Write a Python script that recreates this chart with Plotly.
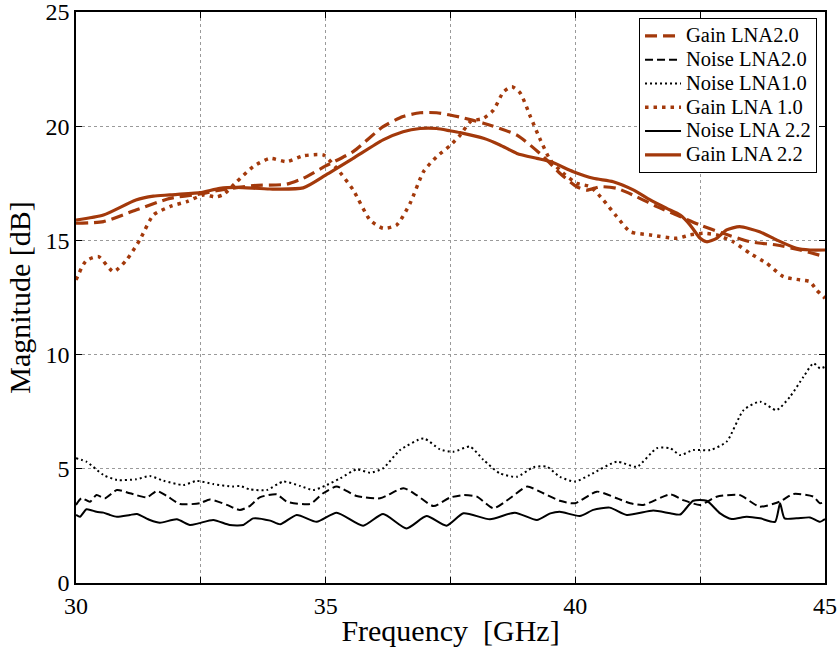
import plotly.graph_objects as go

# ---------------- data ----------------
f_gain22 = [30.0, 30.55, 31.2, 31.55, 31.88, 32.48, 32.88, 33.22, 33.88, 34.55, 35.0, 35.55, 36.15, 36.55,
            36.89, 37.22, 37.49, 37.69, 38.16, 38.49, 38.83, 39.23, 39.5, 39.96, 40.36, 40.76, 41.16, 41.5,
            41.83, 42.1, 42.3, 42.5, 42.63, 42.83, 43.03, 43.29, 43.69, 44.03, 44.43, 44.7, 45.0]
v_gain22 = [15.89, 16.11, 16.77, 16.94, 16.99, 17.09, 17.28, 17.32, 17.25, 17.3, 17.86, 18.59, 19.4, 19.76,
            19.9, 19.9, 19.8, 19.72, 19.47, 19.18, 18.81, 18.59, 18.45, 18.01, 17.72, 17.57, 17.21, 16.77,
            16.4, 16.11, 15.67, 15.09, 14.94, 15.09, 15.46, 15.6, 15.38, 15.02, 14.65, 14.58, 14.58]

f_gain20 = [30.0, 30.55, 31.2, 31.88, 32.48, 32.88, 33.55, 34.22, 34.55, 35.0, 35.55, 36.15, 36.55, 36.89,
            37.22, 37.49, 37.69, 38.16, 38.83, 39.36, 39.69, 40.03, 40.23, 40.5, 40.83, 41.23, 41.63, 42.03,
            42.5, 42.96, 43.5, 44.03, 44.5, 45.0]
v_gain20 = [15.75, 15.82, 16.33, 16.84, 17.03, 17.2, 17.4, 17.46, 17.72, 18.26, 18.89, 19.98, 20.42, 20.59,
            20.59, 20.49, 20.4, 20.13, 19.61, 18.67, 17.94, 17.35, 17.2, 17.35, 17.28, 16.91, 16.48, 16.11,
            15.67, 15.31, 14.94, 14.8, 14.58, 14.29]

f_gain10 = [30.0, 30.2, 30.45, 30.75, 31.01, 31.28, 31.55, 31.88, 32.22, 32.55, 32.8, 32.95, 33.22, 33.55,
            33.88, 34.22, 34.55, 34.95, 35.22, 35.55, 35.89, 36.15, 36.42, 36.69, 36.96, 37.22, 37.49, 37.69,
            37.9, 38.16, 38.36, 38.56, 38.73, 38.9, 39.1, 39.3, 39.5, 39.76, 40.03, 40.3, 40.56, 40.83, 41.1,
            41.5, 42.03, 42.3, 42.56, 42.83, 43.16, 43.5, 43.83, 44.17, 44.5, 44.7, 44.83, 45.0]
v_gain10 = [13.27, 14.1, 14.29, 13.63, 14.14, 15.03, 16.11, 16.48, 16.7, 16.99, 16.9, 17.0, 17.57, 18.23,
            18.59, 18.45, 18.7, 18.74, 18.16, 17.21, 15.89, 15.53, 15.67, 16.62, 18.01, 18.66, 19.15, 19.6,
            20.2, 20.35, 20.7, 21.5, 21.73, 21.44, 20.42, 19.4, 18.52, 17.94, 17.5, 17.35, 16.77, 16.04, 15.38,
            15.24, 15.09, 15.24, 15.31, 15.24, 14.94, 14.43, 14.0, 13.41, 13.27, 13.19, 12.83, 12.47]

f_noise10 = [30.0, 30.21, 30.55, 30.82, 31.2, 31.48, 31.75, 32.15, 32.42, 32.75, 33.15, 33.28, 33.48, 33.82,
             34.15, 34.49, 34.75, 35.02, 35.29, 35.62, 35.89, 36.15, 36.49, 36.96, 37.29, 37.56, 37.89, 38.16,
             38.49, 38.83, 39.16, 39.43, 39.69, 39.99, 40.29, 40.83, 41.23, 41.63, 41.9, 42.1, 42.36, 42.7,
             43.03, 43.37, 43.7, 44.03, 44.3, 44.57, 44.77, 44.9, 45.0]
v_noise10 = [5.46, 5.31, 4.73, 4.51, 4.54, 4.68, 4.48, 4.29, 4.47, 4.33, 4.22, 4.25, 4.1, 4.07,
             4.44, 4.25, 4.07, 4.29, 4.58, 4.97, 4.83, 5.02, 5.82, 6.33, 5.85, 5.75, 5.97, 5.39,
             4.8, 4.65, 5.07, 5.09, 4.65, 4.44, 4.73, 5.31, 5.09, 5.9, 5.9, 5.6, 5.82, 5.82,
             6.19, 7.57, 7.94, 7.57, 8.16, 9.03, 9.62, 9.4, 9.47]

f_noise20 = [30.0, 30.11, 30.28, 30.41, 30.58, 30.82, 31.08, 31.42, 31.62, 31.82, 32.08, 32.48, 32.68, 33.02,
             33.28, 33.48, 33.68, 34.02, 34.22, 34.69, 34.95, 35.22, 35.62, 36.09, 36.56, 36.82, 37.16, 37.49,
             37.76, 38.03, 38.36, 38.69, 39.03, 39.36, 39.69, 39.99, 40.43, 40.83, 41.1, 41.36, 41.9, 42.16,
             42.5, 42.83, 43.29, 43.69, 44.09, 44.37, 44.77, 44.9, 45.0]
v_noise20 = [3.42, 3.71, 3.56, 3.85, 3.71, 4.07, 3.93, 3.75, 4.03, 3.81, 3.46, 3.49, 3.66, 3.42,
             3.2, 3.37, 3.75, 3.88, 3.56, 3.46, 3.93, 4.22, 3.81, 3.71, 4.15, 3.85, 3.37, 3.74,
             3.85, 3.78, 3.27, 3.71, 4.22, 3.93, 3.6, 3.49, 4.0, 3.71, 3.49, 3.42, 3.88, 3.63,
             3.42, 3.78, 3.85, 3.34, 3.56, 3.9, 3.78, 3.49, 3.56]

f_noise22 = [30.0, 30.08, 30.21, 30.41, 30.55, 30.68, 30.82, 31.08, 31.22, 31.48, 31.68, 32.02, 32.28, 32.45,
             32.75, 33.08, 33.35, 33.55, 33.89, 34.09, 34.42, 34.82, 35.22, 35.75, 36.15, 36.62, 37.02, 37.42,
             37.76, 38.29, 38.79, 39.23, 39.5, 39.69, 40.09, 40.36, 40.69, 41.03, 41.56, 41.9, 42.1, 42.36,
             42.63, 42.9, 43.13, 43.43, 43.7, 44.0, 44.1, 44.19, 44.43, 44.7, 44.9, 45.0]
v_noise22 = [2.98, 2.9, 3.23, 3.12, 3.08, 2.98, 2.9, 2.98, 3.02, 2.76, 2.64, 2.79, 2.54, 2.61,
             2.76, 2.54, 2.54, 2.83, 2.73, 2.57, 2.98, 2.68, 3.08, 2.51, 3.02, 2.39, 2.93, 2.51,
             3.05, 2.79, 3.08, 2.76, 3.05, 3.12, 2.93, 3.2, 3.3, 2.98, 3.17, 3.05, 3.0, 3.6,
             3.6, 3.05, 2.8, 2.9, 2.83, 2.68, 3.49, 2.83, 2.83, 2.87, 2.68, 2.8]

series_names = ["Gain LNA2.0", "Noise LNA2.0", "Noise LNA1.0", "Gain LNA 1.0", "Noise LNA 2.2", "Gain LNA 2.2"]

x_tickvals = [30, 32.5, 35, 37.5, 40, 42.5, 45]
x_ticktext = ["30", "", "35", "", "40", "", "45"]
y_tickvals = [0, 5, 10, 15, 20, 25]

ORANGE = "#A3390B"
FONT = "Liberation Serif"

fig = go.Figure()
styles = [
    (f_gain20, v_gain20, ORANGE, 3.2, "12px,6px"),
    (f_noise20, v_noise20, "black", 2, "8px,4px"),
    (f_noise10, v_noise10, "black", 2, "2px,3px"),
    (f_gain10, v_gain10, ORANGE, 3.5, "3.5px,5px"),
    (f_noise22, v_noise22, "black", 2, "solid"),
    (f_gain22, v_gain22, ORANGE, 3.2, "solid"),
]
for name, (xs, ys, col, w, dash) in zip(series_names, styles):
    fig.add_trace(go.Scatter(x=xs, y=ys, mode="lines",
                             name='<span style="font-size:20.5px">' + name + '</span>',
                             line=dict(color=col, width=w, dash=dash, shape="spline", smoothing=0.6)))

axis_common = dict(showline=True, linecolor="black", linewidth=1.5, mirror="ticks",
                   ticks="inside", ticklen=6, tickcolor="black", tickwidth=1,
                   showgrid=True, gridcolor="#9a9a9a", griddash="dot", gridwidth=1,
                   zeroline=False, automargin=False, ticklabeloverflow="allow",
                   tickfont=dict(family=FONT, size=24, color="black"))

fig.update_xaxes(range=[30, 45], tickmode="array", tickvals=x_tickvals, ticktext=x_ticktext,
                 title=dict(text="Frequency  [GHz]", font=dict(family=FONT, size=30, color="black"), standoff=2),
                 **axis_common)
fig.update_yaxes(range=[0, 25], tickmode="array", tickvals=y_tickvals,
                 title=dict(text="Magnitude [dB]", font=dict(family=FONT, size=30, color="black"), standoff=6),
                 **axis_common)

fig.update_layout(
    width=840, height=651,
    margin=dict(l=76, r=15, t=12, b=68),
    paper_bgcolor="white", plot_bgcolor="white",
    font=dict(family=FONT, color="black"),
    legend=dict(x=0.7517, y=0.9895, xanchor="left", yanchor="top",
                bgcolor="white", bordercolor="black", borderwidth=1,
                font=dict(family=FONT, size=16, color="black"),
                tracegroupgap=0, itemwidth=36),
    showlegend=True,
)

fig.write_html("out.html")
